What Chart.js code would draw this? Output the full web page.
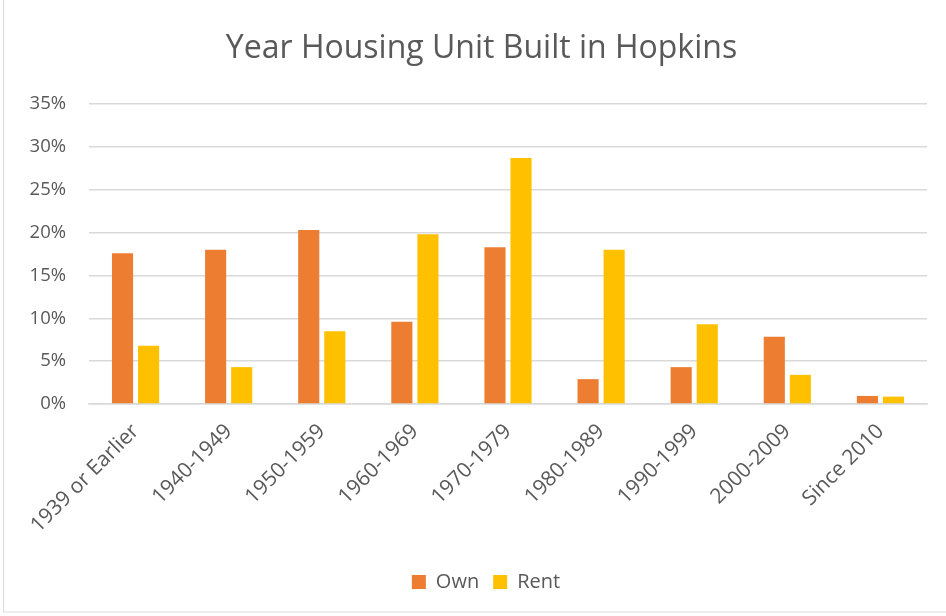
<!DOCTYPE html>
<html>
<head>
<meta charset="utf-8">
<script src="https://cdn.jsdelivr.net/npm/chart.js@4"></script>
<style>
html,body{margin:0;padding:0;background:#fff;}
#wrap{width:946px;height:616px;position:relative;}
</style>
</head>
<body>
<div id="wrap"><canvas id="c" width="946" height="616"></canvas></div>
<script>
const categories = ["1939 or Earlier","1940-1949","1950-1959","1960-1969","1970-1979","1980-1989","1990-1999","2000-2009","Since 2010"];
const ownValues = [17.6, 18.0, 20.3, 9.6, 18.3, 2.9, 4.3, 7.85, 0.94];
const rentValues = [6.8, 4.3, 8.5, 19.8, 28.7, 18.0, 9.3, 3.4, 0.86];
const yTicks = [0,5,10,15,20,25,30,35];
const titleText = "Year Housing Unit Built in Hopkins";

const FONT = "'Open Sans', 'Liberation Sans', sans-serif";
const TXT = "#595959";

const framePlugin = {
  id: 'frame',
  afterLayout(chart){
    // Excel centres title and legend on the whole chart frame
    if (chart.titleBlock) chart.titleBlock.left = 36;
    if (chart.legend) chart.legend.left = 45;
  },
  afterDraw(chart){
    const c = chart.ctx;
    c.save();
    c.strokeStyle = '#d9d9d9';
    c.lineWidth = 1;
    c.strokeRect(3.5, -1, chart.width - 3, chart.height - 3);
    c.restore();
  }
};

new Chart(document.getElementById('c'), {
  type: 'bar',
  data: {
    labels: categories,
    datasets: [
      {label: 'Own', data: ownValues, backgroundColor: '#ED7D31', borderWidth: 0,
       categoryPercentage: 0.56, barPercentage: 0.81},
      {label: 'Rent', data: rentValues, backgroundColor: '#FFC000', borderWidth: 0,
       categoryPercentage: 0.56, barPercentage: 0.81}
    ]
  },
  options: {
    responsive: false,
    animation: false,
    layout: {padding: {left: 20, right: 19, top: 30, bottom: 14}},
    plugins: {
      title: {display: true, text: titleText, color: TXT,
        font: {family: FONT, size: 32, weight: 'normal'}, padding: {top: 0, bottom: 35.6}},
      legend: {position: 'bottom', labels: {color: TXT, font: {family: FONT, size: 20},
        boxWidth: 14, boxHeight: 14, padding: 14}},
      tooltip: {enabled: false}
    },
    scales: {
      x: {
        grid: {display: false, drawTicks: false},
        border: {display: true, color: '#d9d9d9', width: 1.5},
        ticks: {color: TXT, font: {family: FONT, size: 21}, minRotation: 45, maxRotation: 45, padding: 15, autoSkip: false},
        afterFit(s){ s.height = 154; s.paddingLeft = 0; s.paddingRight = 0; }
      },
      y: {
        min: 0, max: 35,
        afterBuildTicks(axis){ axis.ticks = yTicks.map(v => ({value: v})); },
        grid: {color: '#d9d9d9', lineWidth: 1.5, drawTicks: false},
        border: {display: false},
        ticks: {color: TXT, font: {family: FONT, size: 18.5}, padding: 23, callback: v => v + '%'},
        afterFit(s){ s.width = 69; }
      }
    }
  },
  plugins: [framePlugin]
});
</script>
</body>
</html>
